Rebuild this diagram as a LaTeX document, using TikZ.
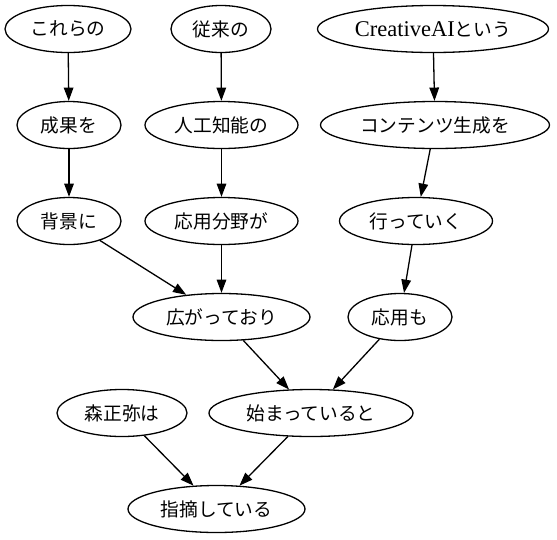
\documentclass[tikz,border=0pt]{standalone}
\usepackage{fontspec}
\setmainfont{Liberation Serif}
\newfontfamily\jp{Noto Sans CJK JP}
\usetikzlibrary{shapes.geometric,arrows.meta}
\begin{document}
\begin{tikzpicture}[x=1pt,y=-1pt,
  word/.style={ellipse,draw=black,line width=1.3pt,inner sep=0pt,
    minimum height=47pt,font=\fontsize{18.7}{22}\selectfont},
  link/.style={draw=black,line width=1.3pt,
    -{Triangle[length=13.3pt,width=9.6pt]}}]
\useasboundingbox (0,0) rectangle (557,539);
% row 1
\node[word,minimum width=126pt] (a) at (68,29) {\jp これらの};
\node[word,minimum width=100pt] (b) at (221,29) {\jp 従来の};
\node[word,minimum width=231pt] (c) at (433,29)
  {{\fontsize{22.5}{24}\selectfont CreativeAI}{\jp という}};
% row 2
\node[word,minimum width=104pt] (d) at (69,125) {\jp 成果を};
\node[word,minimum width=153pt] (e) at (221.5,125) {\jp 人工知能の};
\node[word,minimum width=229pt] (f) at (435,125) {\jp コンテンツ生成を};
% row 3
\node[word,minimum width=104pt] (g) at (69,221) {\jp 背景に};
\node[word,minimum width=153pt] (h) at (221.5,221) {\jp 応用分野が};
\node[word,minimum width=153pt] (i) at (416,221) {\jp 行っていく};
% row 4
\node[word,minimum width=177pt] (j) at (221.5,317) {\jp 広がっており};
\node[word,minimum width=104pt] (k) at (400,317) {\jp 応用も};
% row 5
\node[word,minimum width=130pt] (l) at (122,413) {\jp 森正弥は};
\node[word,minimum width=204pt] (m) at (311,413) {\jp 始まっていると};
% row 6
\node[word,minimum width=177pt] (n) at (216.5,509) {\jp 指摘している};
% connectors
\draw[link] (a) -- (d);
\draw[link] (d) -- (g);
\draw[link] (g) -- (j);
\draw[link] (b) -- (e);
\draw[link] (e) -- (h);
\draw[link] (h) -- (j);
\draw[link] (c) -- (f);
\draw[link] (f) -- (i);
\draw[link] (i) -- (k);
\draw[link] (j) -- (m);
\draw[link] (k) -- (m);
\draw[link] (l) -- (n);
\draw[link] (m) -- (n);
\end{tikzpicture}
\end{document}
